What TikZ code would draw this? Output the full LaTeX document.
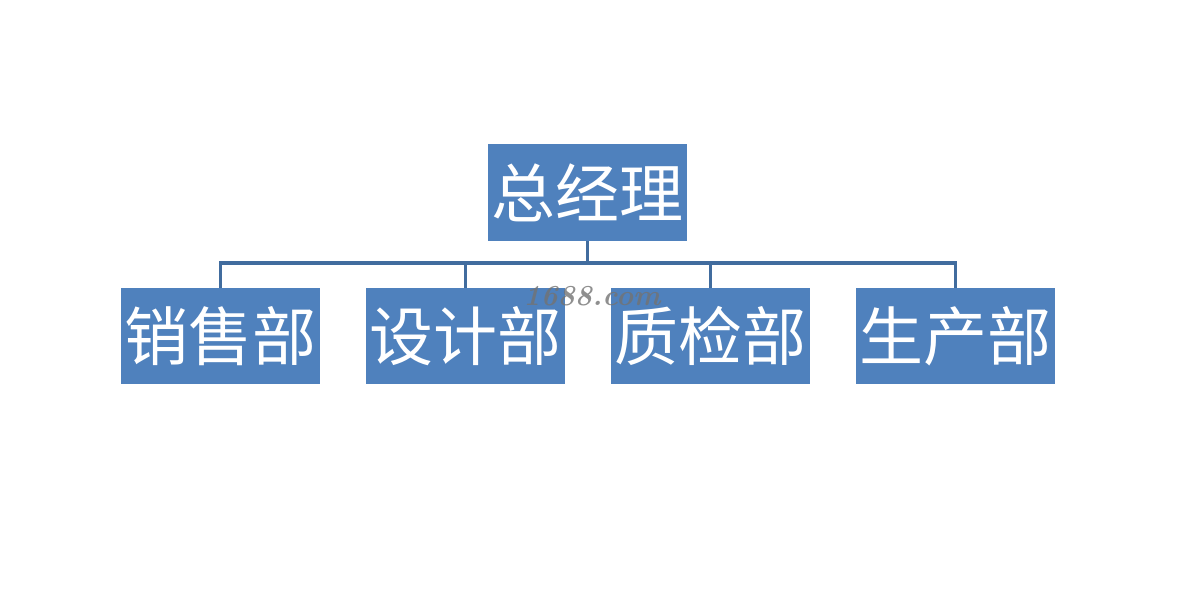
\documentclass[tikz,border=0pt]{standalone}
\usepackage{fontspec}
\newfontfamily\cjk{Noto Sans CJK SC}
\usepackage{xcolor}
\usepackage{tikz}
\usetikzlibrary{positioning}

\definecolor{boxblue}{HTML}{4F81BD}
\definecolor{lineblue}{HTML}{416C9E}

\begin{document}
\begin{tikzpicture}[x=1pt, y=-1pt, node distance=45.5pt]
                \tikzstyle{boss} = [rectangle, minimum width=199pt, minimum height=97pt, inner sep=0pt, fill=boxblue, text=white, font=\cjk\fontsize{64}{64}\selectfont]
                \tikzstyle{dept} = [rectangle, minimum width=199pt, minimum height=96pt, inner sep=0pt, fill=boxblue, text=white, font=\cjk\fontsize{64}{64}\selectfont]
                \tikzstyle{conn} = [line width=3.2pt, draw=lineblue]

                \useasboundingbox (0,0) rectangle (1182,589);

                \node (zong) [boss] at (587.5,192.5) {总经理};
                \node (xiaoshou) [dept] at (220.5,336) {销售部};
                \node (sheji) [dept, right=of xiaoshou] {设计部};
                \node (zhijian) [dept, right=of sheji] {质检部};
                \node (shengchan) [dept, right=of zhijian] {生产部};
                \coordinate (bus) at (587.5,263);

                \foreach \d in {xiaoshou, sheji, zhijian, shengchan}
                    \draw [conn] (zong.south) -- (bus) -| (\d.north);

                \node (mark) at (592,296) [text=black!55, opacity=0.8, font=\bfseries\itshape\fontsize{29}{29}\selectfont] {1688.com};
            \end{tikzpicture}
\end{document}
